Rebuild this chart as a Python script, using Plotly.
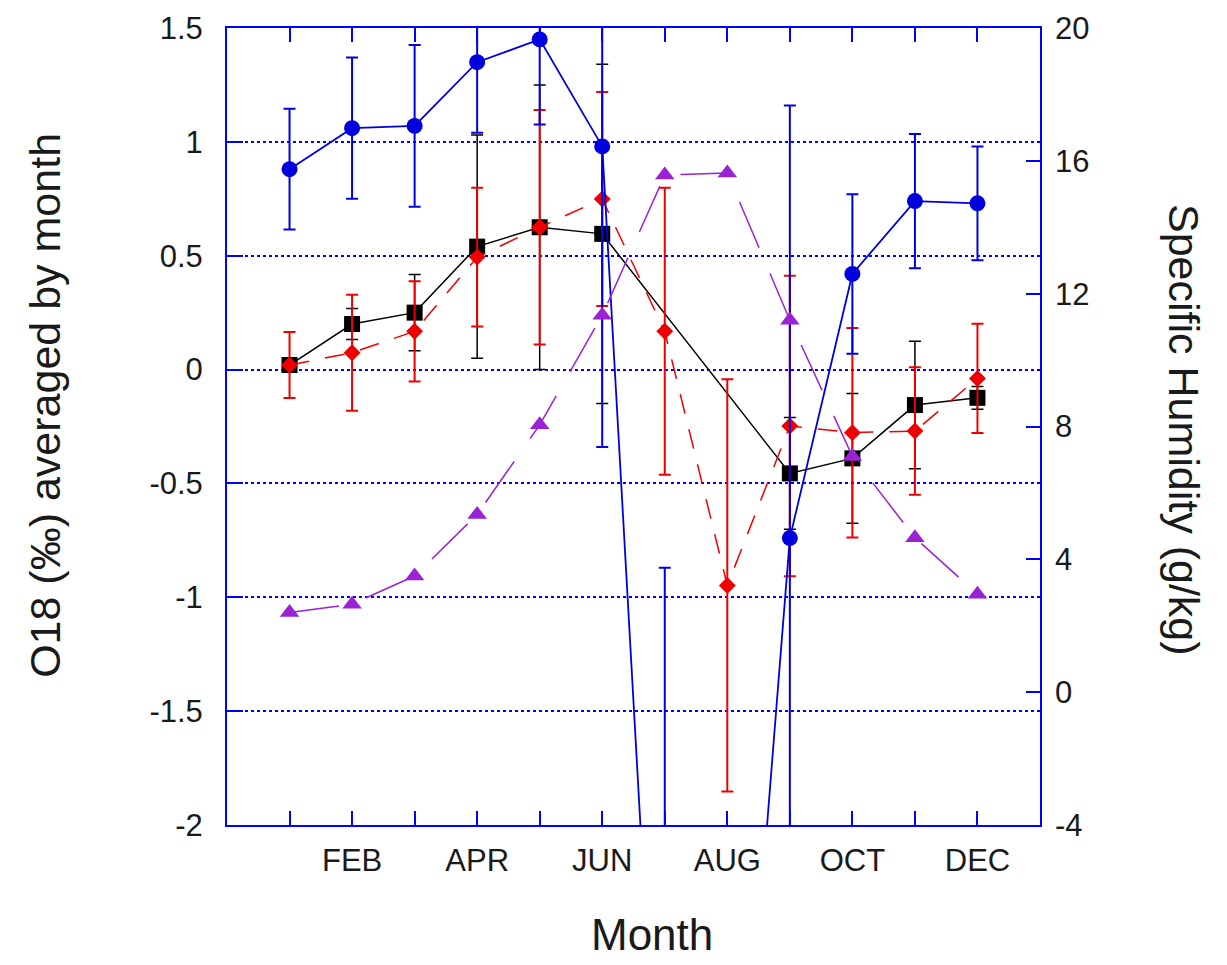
import plotly.graph_objects as go

# Monthly averages (left axis: O18 per mille, right axis: specific humidity g/kg)
months = ["JAN", "FEB", "MAR", "APR", "MAY", "JUN",
          "JUL", "AUG", "SEP", "OCT", "NOV", "DEC"]
month_num = list(range(1, 13))
month_tick_text = ["", "FEB", "", "APR", "", "JUN", "", "AUG", "", "OCT", "", "DEC"]

left_tick_vals = [-2, -1.5, -1, -0.5, 0, 0.5, 1, 1.5]
left_tick_text = ["-2", "-1.5", "-1", "-0.5", "0", "0.5", "1", "1.5"]
right_tick_vals = [-4, 0, 4, 8, 12, 16, 20]
right_tick_text = ["-4", "0", "4", "8", "12", "16", "20"]

blue_o18 = [0.88, 1.06, 1.07, 1.35, 1.45, 0.98, -3.9, -4.2, -0.74, 0.42, 0.74, 0.73]
blue_err = [0.265, 0.31, 0.355, 0.31, 0.374, 1.32, 3.03, 1.5, 1.9, 0.35, 0.295, 0.25]

black_o18 = [0.02, 0.20, 0.25, 0.54, 0.625, 0.596, None, None, -0.456, -0.39, -0.156, -0.124]
black_err = [0.02, 0.068, 0.167, 0.49, 0.625, 0.745, 0, 0, 0.245, 0.285, 0.28, 0.05]

red_o18 = [0.02, 0.074, 0.168, 0.494, 0.625, 0.749, 0.168, -0.948, -0.248, -0.277, -0.27, -0.039]
red_err = [0.145, 0.255, 0.22, 0.305, 0.515, 0.47, 0.63, 0.905, 0.66, 0.46, 0.28, 0.24]

humidity = [2.4, 2.65, 3.5, 5.35, 8.05, 11.35, 15.57, 15.63, 11.2, 7.1, 4.65, 2.95]

FONT = "Liberation Sans, Arial, Helvetica, sans-serif"
TXT = "#1a1a1a"
AXIS_BLUE = "#0000ff"
BLUE = "#0000dd"
RED = "#ee0000"
PURPLE = "#9b22d4"

fig = go.Figure()

fig.add_trace(go.Scatter(
    x=month_num, y=black_o18, mode="lines+markers", connectgaps=True,
    line=dict(color="black", width=1.5),
    marker=dict(symbol="square", size=16, color="black"),
    error_y=dict(type="data", array=black_err, color="black", thickness=1.5, width=6),
    showlegend=False,
))

fig.add_trace(go.Scatter(
    x=month_num, y=red_o18, mode="lines+markers",
    line=dict(color=RED, width=1.5, dash="20px,16px"),
    marker=dict(symbol="diamond", size=13, color=RED),
    error_y=dict(type="data", array=red_err, color=RED, thickness=2, width=6),
    showlegend=False,
))

fig.add_trace(go.Scatter(
    x=month_num, y=blue_o18, mode="lines+markers",
    line=dict(color=BLUE, width=1.8),
    marker=dict(symbol="circle", size=16, color=BLUE),
    error_y=dict(type="data", array=blue_err, color=BLUE, thickness=2, width=6),
    showlegend=False,
))

fig.add_trace(go.Scatter(
    x=month_num, y=humidity, yaxis="y2", mode="lines+markers",
    line=dict(color=PURPLE, width=1.5, dash="50px,28px"),
    marker=dict(symbol="triangle-up", size=17, color=PURPLE),
    showlegend=False,
))

fig.update_layout(
    width=1227, height=965,
    margin=dict(l=227, r=187, t=28, b=140),
    paper_bgcolor="white", plot_bgcolor="white",
    font=dict(family=FONT, color=TXT),
    xaxis=dict(
        range=[0, 13], tickmode="array", tickvals=month_num, ticktext=month_tick_text,
        ticks="inside", ticklen=14, tickwidth=2, tickcolor=AXIS_BLUE,
        showline=True, linecolor=AXIS_BLUE, linewidth=2, mirror="ticks",
        showgrid=False, zeroline=False,
        tickfont=dict(size=31, color=TXT, family=FONT), ticklabelstandoff=7,
    ),
    yaxis=dict(
        range=[-2, 1.5], tickmode="array", tickvals=left_tick_vals, ticktext=left_tick_text,
        ticks="inside", ticklen=16, tickwidth=2, tickcolor=AXIS_BLUE,
        showline=True, linecolor=AXIS_BLUE, linewidth=2, mirror=True,
        showgrid=True, gridcolor=AXIS_BLUE, gridwidth=1.5, griddash="dot",
        zeroline=False,
        tickfont=dict(size=31, color=TXT, family=FONT), ticklabelstandoff=16,
    ),
    yaxis2=dict(
        range=[-4, 20], overlaying="y", side="right",
        tickmode="array", tickvals=right_tick_vals, ticktext=right_tick_text,
        ticks="inside", ticklen=14, tickwidth=2, tickcolor=AXIS_BLUE,
        showline=False, showgrid=False, zeroline=False,
        tickfont=dict(size=31, color=TXT, family=FONT), ticklabelstandoff=14,
    ),
    annotations=[
        dict(text="O18 (‰) averaged by month", xref="paper", yref="paper",
             x=-0.224, y=0.527, textangle=-90, showarrow=False,
             font=dict(size=43, color=TXT, family=FONT),
             xanchor="center", yanchor="middle"),
        dict(text="Specific Humidity (g/kg)", xref="paper", yref="paper",
             x=1.178, y=0.496, textangle=90, showarrow=False,
             font=dict(size=43, color=TXT, family=FONT),
             xanchor="center", yanchor="middle"),
        dict(text="Month", xref="paper", yref="paper",
             x=0.523, y=-0.137, showarrow=False,
             font=dict(size=44, color=TXT, family=FONT),
             xanchor="center", yanchor="middle"),
    ],
)

fig.write_html("out.html")
